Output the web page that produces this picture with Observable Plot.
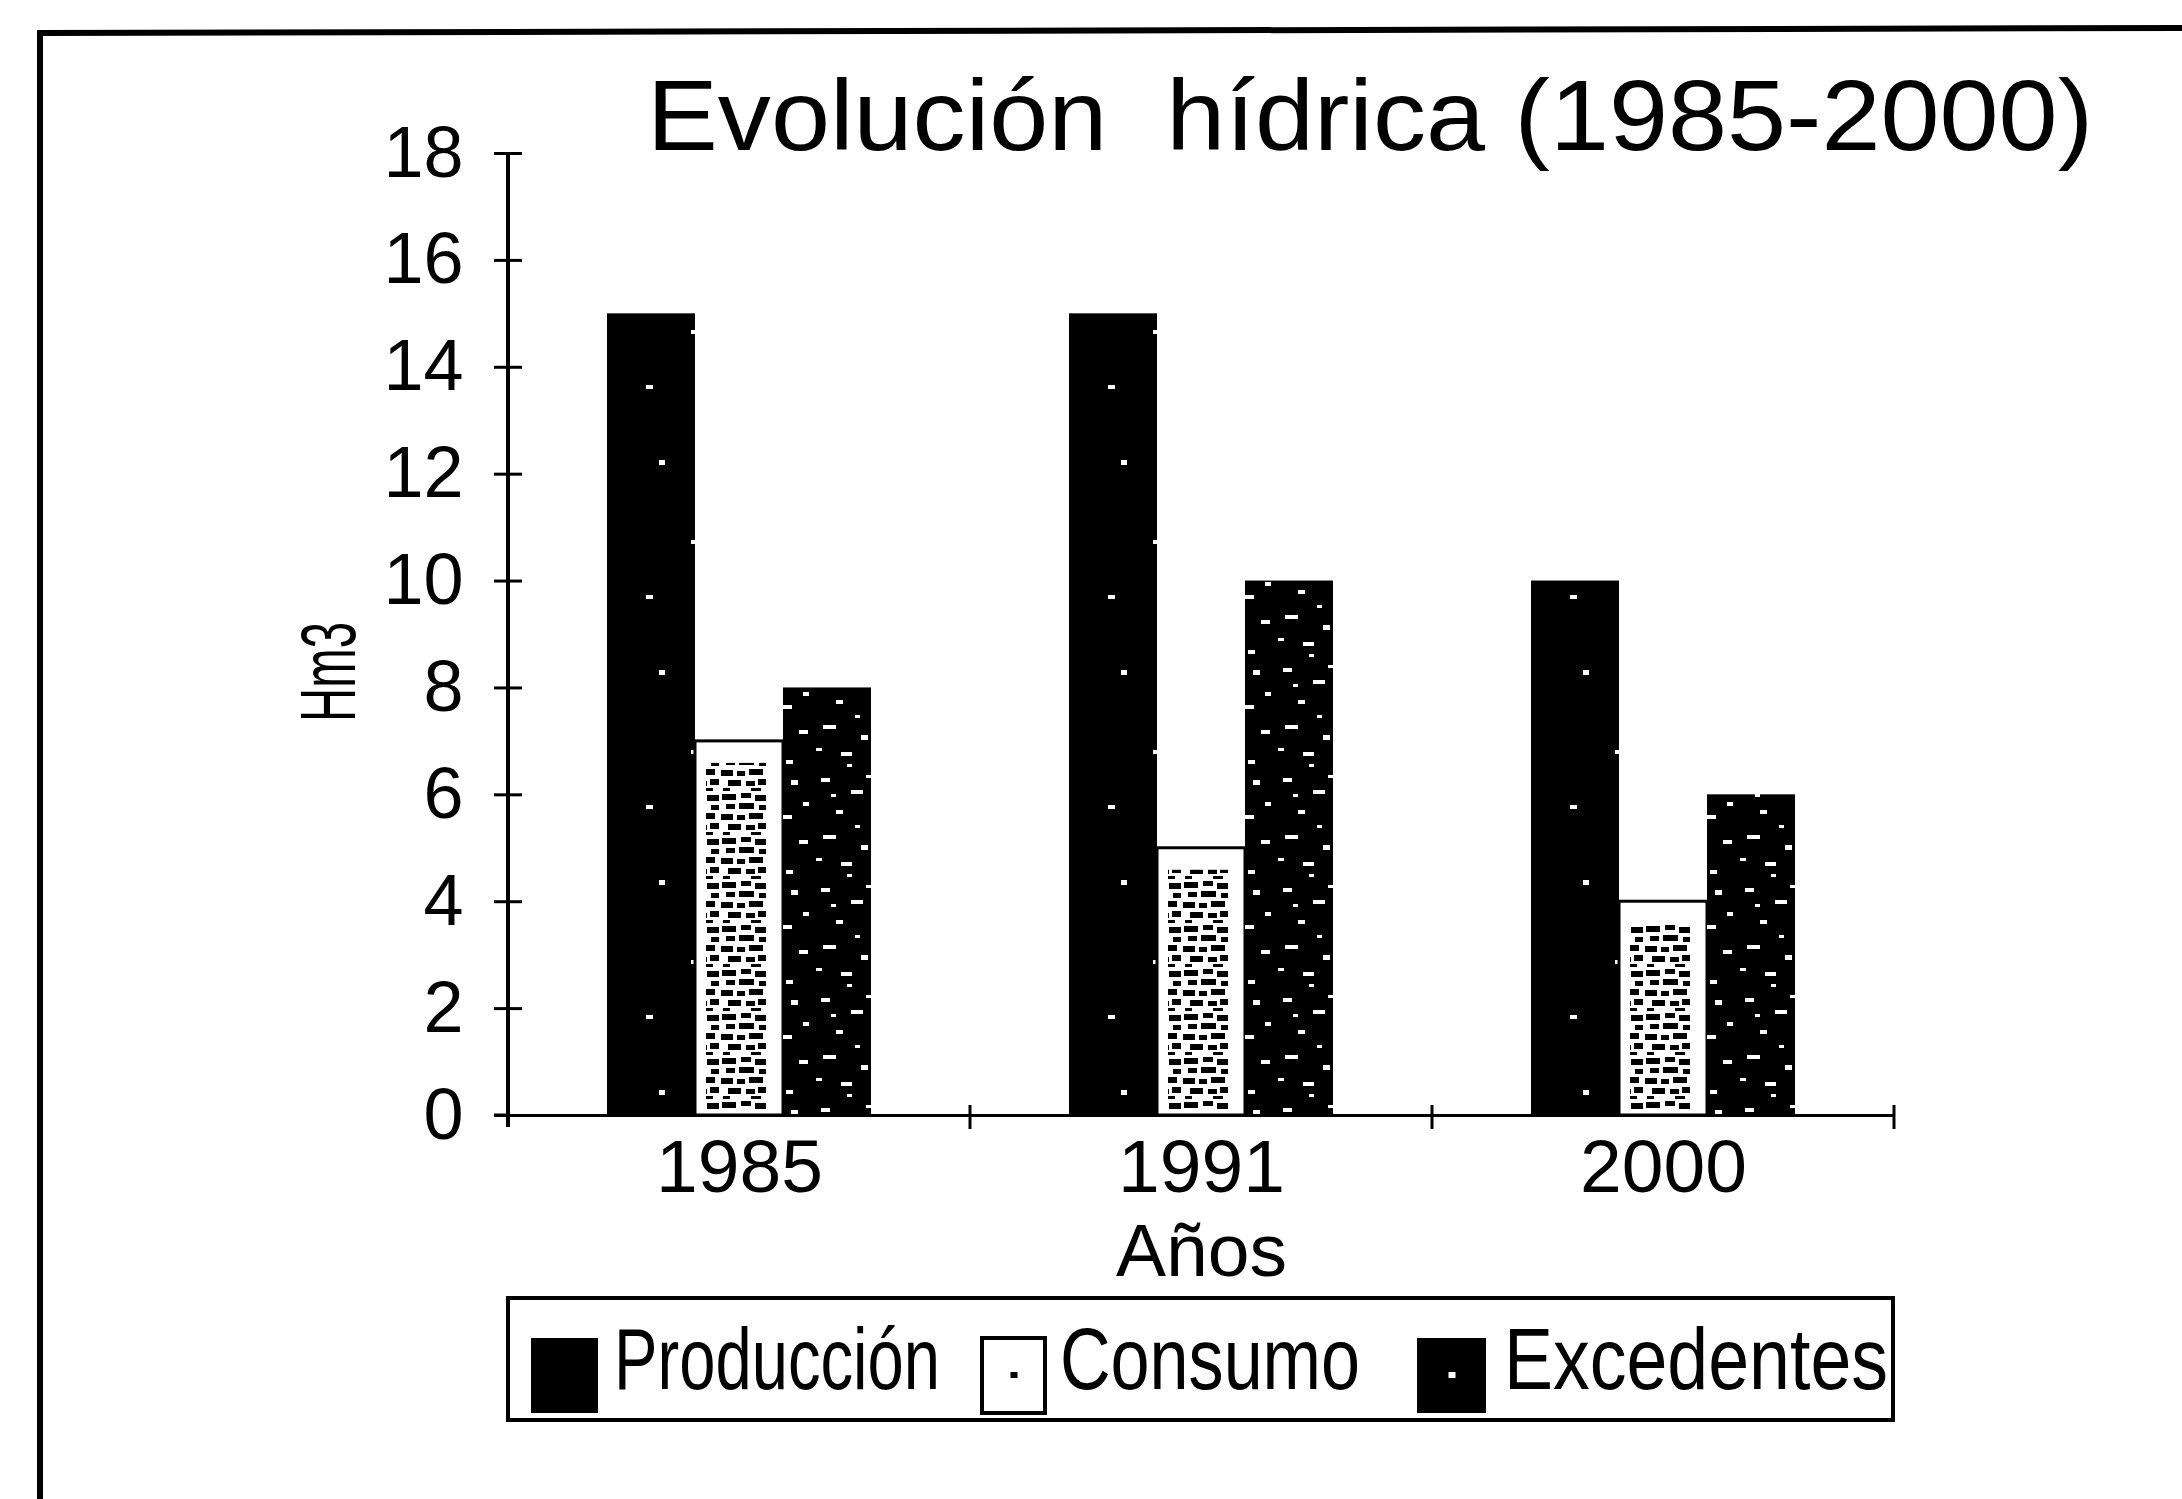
<!DOCTYPE html>
<html>
<head>
<meta charset="utf-8">
<script src="https://cdn.jsdelivr.net/npm/d3@7"></script>
<script src="https://cdn.jsdelivr.net/npm/@observablehq/plot@0.6"></script>
<style>
html, body { margin: 0; padding: 0; background: #fff; }
#wrap { position: relative; width: 2182px; height: 1499px; overflow: hidden; }
#wrap > svg { position: absolute; left: 0; top: 0; }
</style>
</head>
<body>
<div id="wrap"></div>
<script>
// ---- data ----
const years = ["1985", "1991", "2000"];
const series = ["Producción", "Consumo", "Excedentes"];
const produccion = [15, 15, 10];
const consumo = [7, 5, 4];
const excedentes = [8, 10, 6];
const yTicks = [0, 2, 4, 6, 8, 10, 12, 14, 16, 18];
const titleText = "Evolución  hídrica (1985-2000)";
const yLabelText = "Hm3";
const xLabelText = "Años";

const rows = years.flatMap((year, i) => [
  {year, series: series[0], value: produccion[i]},
  {year, series: series[1], value: consumo[i]},
  {year, series: series[2], value: excedentes[i]}
]);

const FONT = "'Liberation Sans', Arial, Helvetica, sans-serif";
const W = 2182, H = 1499;
const wrap = document.getElementById("wrap");

// ---- pattern definitions (scan-like textures) ----
const defsSvg = d3.select(wrap).append("svg").attr("width", 0).attr("height", 0).style("position", "absolute");
const defs = defsSvg.append("defs");
function pattern(id, w, h, bg, fg, rects) {
  const p = defs.append("pattern").attr("id", id).attr("patternUnits", "userSpaceOnUse").attr("width", w).attr("height", h);
  p.append("rect").attr("width", w).attr("height", h).attr("fill", bg);
  rects.forEach(([x, y, rw, rh]) => p.append("rect").attr("x", x).attr("y", y).attr("width", rw).attr("height", rh).attr("fill", fg));
}
pattern("pat-consumo", 48, 44, "#fff", "#000", [
  [1,2,14,6],[20,1,10,5],[34,3,12,6],[5,12,9,5],[18,11,15,6],[38,13,8,5],
  [0,22,12,6],[16,23,8,5],[28,21,14,6],[7,32,13,6],[25,33,9,5],[37,31,9,6],[2,40,7,3],[30,40,10,3]
]);
pattern("pat-exc", 90, 110, "#000", "#fff", [
  [10,8,9,4],[40,20,12,4],[70,10,7,5],[25,40,7,4],[60,45,11,4],[12,65,13,4],[50,75,7,5],[78,70,9,4],
  [30,92,11,4],[65,100,7,4],[5,88,6,3],[44,55,5,3],[82,32,6,4],[20,24,5,3],[55,5,6,3],[36,104,5,3]
]);
pattern("pat-prod", 90, 210, "#000", "#fff", [[28,40,6,5],[60,120,5,4],[15,175,7,4]]);

// ---- chart ----
const chart = Plot.plot({
  width: W,
  height: H,
  marginLeft: 507,
  marginRight: 288,
  marginTop: 153,
  marginBottom: 384,
  style: {fontFamily: FONT, color: "#000", background: "transparent", overflow: "visible"},
  fx: {domain: years, padding: 0, label: xLabelText},
  x: {domain: series, paddingInner: 0, paddingOuter: 1.125, axis: null},
  y: {domain: [0, 18], label: null},
  marks: [
    Plot.barY(rows, {filter: d => d.series === series[0], fx: "year", x: "series", y: "value", fill: "url(#pat-prod)"}),
    Plot.barY(rows, {filter: d => d.series === series[1], fx: "year", x: "series", y: "value", fill: "#fff", stroke: "#000", strokeWidth: 3}),
    Plot.barY(rows, {filter: d => d.series === series[1], fx: "year", x: "series", y: "value", fill: "url(#pat-consumo)",
      insetLeft: 11, insetRight: 17, insetTop: 22, insetBottom: 4}),
    Plot.barY(rows, {filter: d => d.series === series[2], fx: "year", x: "series", y: "value", fill: "url(#pat-exc)"}),
    Plot.ruleY([0], {stroke: "#000", strokeWidth: 3}),
    Plot.axisY(yTicks, {tickSize: 28, dx: 14, tickPadding: 31, fontSize: 72, strokeWidth: 3,
      tickFormat: d => String(d), label: null}),
    Plot.axisFx({anchor: "bottom", tickSize: 0, tickPadding: 23, fontSize: 75, label: xLabelText,
      labelAnchor: "center", labelOffset: 160})
  ]
});
wrap.appendChild(chart);

// axis line and band boundary ticks derived from the plot's own scales
const fxS = chart.scale("fx"), yS = chart.scale("y");
const fxf = fxS.apply ? (v => fxS.apply(v)) : d3.scaleBand(fxS.domain, fxS.range);
const bw = fxS.bandwidth != null ? fxS.bandwidth : d3.scaleBand(fxS.domain, fxS.range).bandwidth();
const yf = yS.apply ? (v => yS.apply(v)) : d3.scaleLinear(yS.domain, yS.range);
const cs = d3.select(chart);
const x0 = fxf(years[0]);
cs.append("line").attr("x1", x0).attr("x2", x0).attr("y1", yf(18)).attr("y2", yf(0) + 12)
  .attr("stroke", "#000").attr("stroke-width", 4);
cs.append("line").attr("x1", x0 - 14).attr("x2", x0).attr("y1", yf(0)).attr("y2", yf(0))
  .attr("stroke", "#000").attr("stroke-width", 3);
cs.selectAll("line.bt").data(years).join("line").attr("class", "bt")
  .attr("x1", d => fxf(d) + bw).attr("x2", d => fxf(d) + bw)
  .attr("y1", yf(0) - 10).attr("y2", yf(0) + 14)
  .attr("stroke", "#000").attr("stroke-width", 3);

// ---- overlay: frame, title, y label, legend ----
const ov = d3.select(wrap).append("svg").attr("width", W).attr("height", H)
  .style("font-family", FONT).style("pointer-events", "none");
ov.append("path").attr("d", `M40,${H} L40,33 L${W},28`).attr("fill", "none").attr("stroke", "#000").attr("stroke-width", 6);

ov.append("text").attr("x", 647).attr("y", 150).attr("font-size", 100)
  .attr("textLength", 1446).attr("lengthAdjust", "spacingAndGlyphs")
  .style("white-space", "pre").attr("fill", "#000").text(titleText);

ov.append("text").attr("transform", "translate(355,722) rotate(-90)").attr("font-size", 78)
  .attr("textLength", 100).attr("lengthAdjust", "spacingAndGlyphs").attr("fill", "#000").text(yLabelText);

// legend
ov.append("rect").attr("x", 508).attr("y", 1298).attr("width", 1385).attr("height", 122)
  .attr("fill", "none").attr("stroke", "#000").attr("stroke-width", 4);
const swX = [531, 982, 1417], swW = [67, 63, 69], txX = [614, 1060, 1504], txW = [326, 300, 384];
const swFill = ["#000", "#fff", "#000"];
const lg = ov.selectAll("g.item").data(series).join("g").attr("class", "item");
lg.append("rect").attr("x", (d, i) => swX[i]).attr("y", 1338).attr("width", (d, i) => swW[i]).attr("height", 75)
  .attr("fill", (d, i) => swFill[i]).attr("stroke", (d, i) => i === 1 ? "#000" : "none").attr("stroke-width", 4);
lg.filter((d, i) => i > 0).append("rect").attr("x", (d, i) => swX[i + 1] + swW[i + 1] / 2 - 3).attr("y", 1372)
  .attr("width", 7).attr("height", 6).attr("fill", (d, i) => i === 0 ? "#000" : "#fff");
lg.append("text").attr("x", (d, i) => txX[i]).attr("y", 1389).attr("font-size", 88)
  .attr("textLength", (d, i) => txW[i]).attr("lengthAdjust", "spacingAndGlyphs").attr("fill", "#000").text(d => d);
</script>
</body>
</html>
